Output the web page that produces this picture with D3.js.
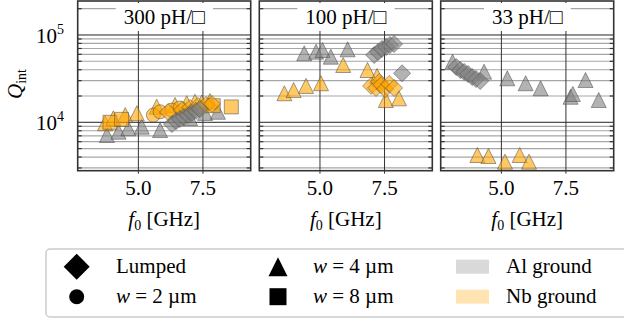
<!DOCTYPE html>
<html>
<head>
<meta charset="utf-8">
<script src="https://cdn.jsdelivr.net/npm/d3@7"></script>
<style>
  body { margin: 0; background: #fff; }
  svg { display: block; }
  text { font-family: "Liberation Serif", "Times New Roman", serif; fill: #000; }
</style>
</head>
<body>
<div id="chart"></div>
<script>
// sheet inductance of each panel
const sheetLabels = ["300 pH/\u25A1", "100 pH/\u25A1", "33 pH/\u25A1"];
const xTickValues = [5.0, 7.5];
const yMajorTicks = [1e4, 1e5];
const yMinorTicks = [3e3, 4e3, 5e3, 6e3, 7e3, 8e3, 9e3,
                     2e4, 3e4, 4e4, 5e4, 6e4, 7e4, 8e4, 9e4, 2e5];

// [f0 (GHz), Qint]  -- 300 pH/sq
const al300W4 = [[3.78, 7160], [4.23, 7800], [4.61, 8530], [5.13, 8910], [5.84, 8160], [7.0, 11200], [7.58, 12800], [8.08, 13200]];
const nb300W4 = [[3.71, 9750], [4.03, 11100], [4.49, 12100], [4.94, 12700], [5.71, 15100], [6.42, 15800], [6.87, 16500], [7.19, 17200], [7.45, 16800], [7.77, 17500]];
const nb300W8 = [[3.9, 10000], [4.35, 10800], [7.9, 15500], [8.6, 15000]];
const nb300W2 = [[5.58, 12100], [5.84, 13200], [6.29, 13800], [6.61, 14600]];
const nb300Lumped = [[6.15, 13100], [6.69, 13800], [7.0, 14600], [7.31, 15400], [7.62, 15800], [7.85, 16200]];
const al300Lumped = [[6.30, 9550], [6.46, 10300], [6.61, 10900], [6.76, 11500], [6.92, 12100], [7.07, 12800], [7.23, 13500], [7.38, 14200]];

// 100 pH/sq
const al100W4 = [[4.39, 61700], [4.85, 64400], [5.10, 67300], [5.42, 56400], [6.07, 68500]];
const nb100W4 = [[3.62, 21500], [3.98, 23400], [4.46, 26100], [5.04, 28000], [5.90, 45300], [6.84, 39700], [7.21, 33900], [7.55, 18000], [8.06, 18800]];
const nb100Lumped = [[6.98, 26100], [7.17, 24700], [7.30, 29000], [7.37, 26700], [7.52, 24000], [7.68, 27500], [7.87, 24700]];
const al100Lumped = [[7.10, 59000], [7.25, 63800], [7.40, 69100], [7.56, 72900], [7.71, 76800], [7.87, 78900], [8.18, 36400]];

// 33 pH/sq
const al33W4 = [[3.11, 49400], [4.33, 38000], [5.23, 31900], [5.94, 28000], [6.52, 24500], [7.68, 19600], [7.77, 21100], [8.26, 30500], [8.77, 18000]];
const al33Lumped = [[3.25, 43000], [3.41, 39700], [3.56, 37700], [3.71, 35700], [3.87, 33000], [4.02, 31300], [4.18, 29700]];
const nb33W4 = [[4.07, 4220], [4.50, 4110], [5.14, 3540], [5.71, 4220], [6.07, 3540]];

const series = [
  { panel: 0, shape: "triangle", ground: "Al", data: al300W4 },
  { panel: 0, shape: "triangle", ground: "Nb", data: nb300W4 },
  { panel: 0, shape: "square", ground: "Nb", data: nb300W8 },
  { panel: 0, shape: "circle", ground: "Nb", data: nb300W2 },
  { panel: 0, shape: "diamond", ground: "Nb", data: nb300Lumped },
  { panel: 0, shape: "diamond", ground: "Al", data: al300Lumped },
  { panel: 1, shape: "triangle", ground: "Al", data: al100W4 },
  { panel: 1, shape: "triangle", ground: "Nb", data: nb100W4 },
  { panel: 1, shape: "diamond", ground: "Nb", data: nb100Lumped },
  { panel: 1, shape: "diamond", ground: "Al", data: al100Lumped },
  { panel: 2, shape: "triangle", ground: "Al", data: al33W4 },
  { panel: 2, shape: "diamond", ground: "Al", data: al33Lumped },
  { panel: 2, shape: "triangle", ground: "Nb", data: nb33W4 }
];

const groundColor = { Al: "#808080", Nb: "#ffa500" };
const markerSize = { triangle: 15, diamond: 17, square: 14, circle: 14 };

const width = 624, height = 322;
const panelLeft = [77.7, 259.3, 440.7];
const panelW = 173;
const plotTop = 1, plotBottom = 170.7;
const fontSize = 21, subSize = 14;

const x = d3.scaleLinear().domain([2.65, 9.35]).range([0, panelW]);
const y = d3.scaleLog().domain([2790, 245000]).range([plotBottom, plotTop]);

const svg = d3.select("#chart").append("svg")
  .attr("width", width)
  .attr("height", height);

function shapePath(kind, s) {
  const h = s / 2;
  if (kind === "triangle") return `M0,${-h}L${h},${h}L${-h},${h}Z`;
  if (kind === "diamond") return `M0,${-h}L${h},0L0,${h}L${-h},0Z`;
  if (kind === "square") return `M${-h},${-h}H${h}V${h}H${-h}Z`;
  return `M${h},0A${h},${h} 0 1,1 ${-h},0A${h},${h} 0 1,1 ${h},0Z`;
}

sheetLabels.forEach((label, i) => {
  const g = svg.append("g").attr("transform", `translate(${panelLeft[i]},0)`);

  g.append("clipPath").attr("id", `clip${i}`)
    .append("rect").attr("x", 0).attr("y", plotTop).attr("width", panelW).attr("height", plotBottom - plotTop);

  // minor gridlines
  g.selectAll(".minor").data(yMinorTicks).join("line")
    .attr("x1", 0).attr("x2", panelW)
    .attr("y1", d => y(d)).attr("y2", d => y(d))
    .attr("stroke", "#a6a6a6").attr("stroke-width", 1.2);

  // major gridlines
  g.selectAll(".major").data(yMajorTicks).join("line")
    .attr("x1", 0).attr("x2", panelW)
    .attr("y1", d => y(d)).attr("y2", d => y(d))
    .attr("stroke", "#222").attr("stroke-width", 1);

  g.selectAll(".vgrid").data(xTickValues).join("line")
    .attr("x1", d => x(d)).attr("x2", d => x(d))
    .attr("y1", plotTop).attr("y2", plotBottom + 3)
    .attr("stroke", "#333").attr("stroke-width", 1);

  // inward ticks on both sides
  [0, panelW].forEach(edge => {
    const dir = edge === 0 ? 1 : -1;
    g.selectAll(null).data(yMinorTicks).join("line")
      .attr("x1", edge).attr("x2", edge + dir * 4)
      .attr("y1", d => y(d)).attr("y2", d => y(d))
      .attr("stroke", "#333").attr("stroke-width", 1.2);
  });

  // title box
  const title = g.append("text")
    .attr("x", panelW / 2).attr("y", 24)
    .attr("text-anchor", "middle")
    .attr("font-size", fontSize)
    .text(label);
  const bb = title.node().getBBox();
  g.insert("rect", "text")
    .attr("x", bb.x - 8).attr("y", 3)
    .attr("width", bb.width + 16).attr("height", 28)
    .attr("fill", "#fff");

  // markers
  const mk = g.append("g").attr("clip-path", `url(#clip${i})`);
  series.filter(s => s.panel === i).forEach(s => {
    mk.selectAll(null).data(s.data).join("path")
      .attr("transform", d => `translate(${x(d[0])},${y(d[1])})`)
      .attr("d", shapePath(s.shape, markerSize[s.shape]))
      .attr("fill", groundColor[s.ground]).attr("fill-opacity", 0.6)
      .attr("stroke", "#444").attr("stroke-opacity", 0.5).attr("stroke-width", 1);
  });

  // frame
  g.append("rect")
    .attr("x", 0).attr("y", plotTop).attr("width", panelW).attr("height", plotBottom - plotTop)
    .attr("fill", "none").attr("stroke", "#333").attr("stroke-width", 1.6);

  // x tick labels
  g.selectAll(".xt").data(xTickValues).join("text")
    .attr("x", d => x(d)).attr("y", 195)
    .attr("text-anchor", "middle").attr("font-size", fontSize)
    .text(d => d3.format(".1f")(d));

  const xl = g.append("text")
    .attr("x", panelW / 2).attr("y", 226)
    .attr("text-anchor", "middle").attr("font-size", fontSize);
  xl.append("tspan").attr("font-style", "italic").text("f");
  xl.append("tspan").attr("font-size", subSize).attr("dy", 4).text("0");
  xl.append("tspan").attr("dy", -4).text(" [GHz]");
});

// y tick labels
yMajorTicks.forEach(v => {
  const t = svg.append("text")
    .attr("x", 64).attr("y", y(v) + 8)
    .attr("text-anchor", "end").attr("font-size", fontSize);
  t.append("tspan").text("10");
  t.append("tspan").attr("font-size", subSize).attr("dy", -9).text(String(Math.round(Math.log10(v))));
});

// y axis label
const yl = svg.append("text")
  .attr("transform", "translate(22,84) rotate(-90)")
  .attr("text-anchor", "middle").attr("font-size", fontSize);
yl.append("tspan").attr("font-style", "italic").text("Q");
yl.append("tspan").attr("font-size", subSize).attr("dy", 4).text("int");

// legend
const legendShapes = ["diamond", "circle", "triangle", "square"];
const legendLabels = [["", "Lumped"], ["w", " = 2 \u00B5m"], ["w", " = 4 \u00B5m"], ["w", " = 8 \u00B5m"]];
const legendSizes = [26, 15, 19, 17];
const legendGrounds = ["Al", "Nb"];
const legendGroundLabels = ["Al ground", "Nb ground"];
const rowY = [266.7, 296.7];
const colMarkerX = [76.7, 278];
const colTextX = [116, 313];

const lg = svg.append("g");
lg.append("rect")
  .attr("x", 46).attr("y", 249).attr("width", 600).attr("height", 68)
  .attr("rx", 4)
  .attr("fill", "#fff").attr("stroke", "#cccccc").attr("stroke-width", 1.5);

legendShapes.forEach((s, k) => {
  const col = Math.floor(k / 2), row = k % 2;
  lg.append("path")
    .attr("transform", `translate(${colMarkerX[col]},${rowY[row]})`)
    .attr("d", shapePath(s, legendSizes[k]))
    .attr("fill", "#000");
  const t = lg.append("text")
    .attr("x", colTextX[col]).attr("y", rowY[row] + 6.5)
    .attr("font-size", fontSize);
  if (legendLabels[k][0]) t.append("tspan").attr("font-style", "italic").text(legendLabels[k][0]);
  t.append("tspan").text(legendLabels[k][1]);
});

legendGrounds.forEach((gname, row) => {
  lg.append("rect")
    .attr("x", 456).attr("y", rowY[row] - 7).attr("width", 33).attr("height", 14)
    .attr("fill", groundColor[gname]).attr("fill-opacity", 0.3);
  lg.append("text")
    .attr("x", 506).attr("y", rowY[row] + 6.5)
    .attr("font-size", fontSize)
    .text(legendGroundLabels[row]);
});
</script>
</body>
</html>
